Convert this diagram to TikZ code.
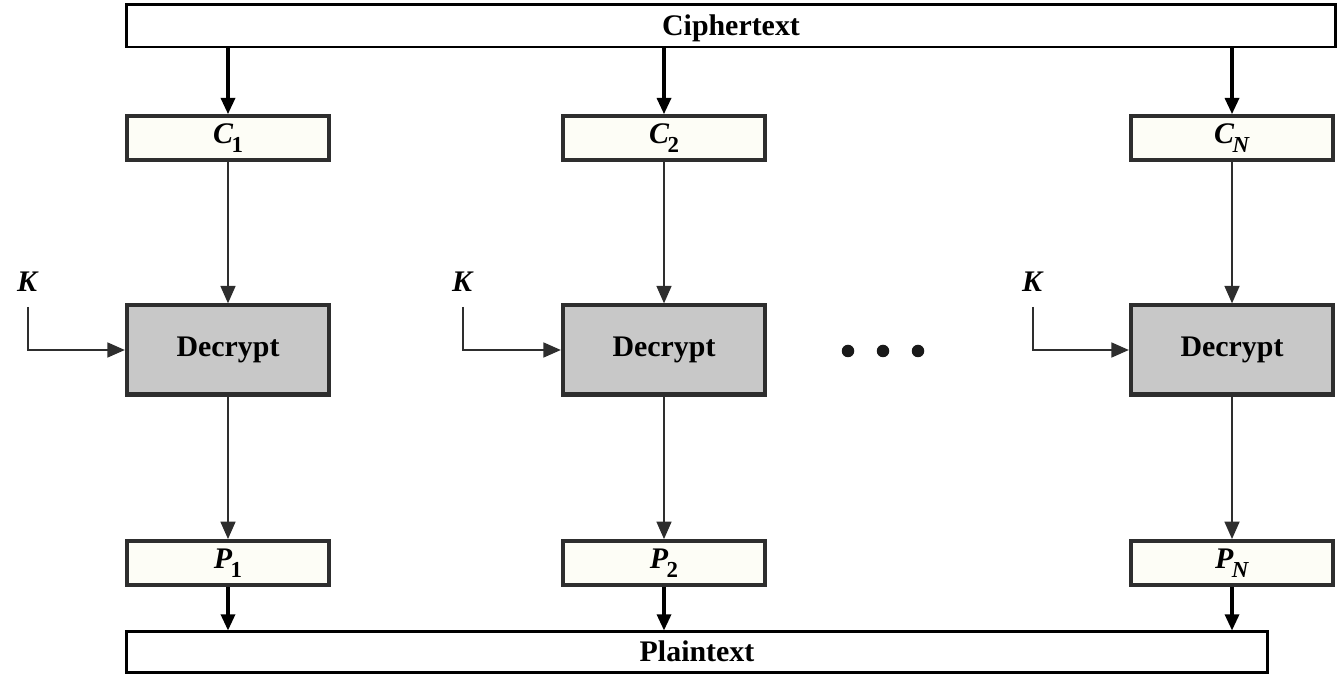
\documentclass[tikz,border=0pt]{standalone}
\usepackage{fontspec}
\setmainfont{Liberation Serif}
\usetikzlibrary{arrows.meta}
\definecolor{boxline}{HTML}{2E2E2E}
\definecolor{blockfill}{HTML}{FDFDF6}
\definecolor{cipherfill}{HTML}{C8C8C8}
\newcommand{\blk}[2]{\textbf{\textit{#1}}\kern-0.5pt\raisebox{-2.4pt}{\fontsize{6.5}{7}\selectfont\textbf{#2}}}
\newcommand{\blkit}[2]{\textbf{\textit{#1}}\kern-0.5pt\raisebox{-2.4pt}{\fontsize{6.5}{7}\selectfont\textbf{\textit{#2}}}}
\begin{document}
\begin{tikzpicture}[x=0.01cm,y=-0.01cm,
  every node/.style={font=\fontsize{8.5}{10}\selectfont\bfseries, inner sep=0pt},
  bar/.style={draw=black, line width=0.85pt, fill=white, minimum height=0.42cm, text depth=0.5pt},
  blockbox/.style={draw=boxline, line width=1.05pt, fill=blockfill, minimum width=2.02cm, minimum height=0.44cm},
  decbox/.style={draw=boxline, line width=1.15pt, fill=cipherfill, minimum width=2.02cm, minimum height=0.89cm},
  thick arrow/.style={line width=0.9pt, draw=black, -{Triangle[length=4.6pt,width=4pt]}},
  thin arrow/.style={line width=0.7pt, draw=boxline, -{Triangle[length=5pt,width=4.2pt]}},
  key/.style={font=\fontsize{8.5}{10}\selectfont\bfseries\itshape},
  dot/.style={fill=black!90, circle, minimum size=0.125cm}]
\useasboundingbox (0,0) rectangle (1340,674);

% top and bottom bars
\node[bar, minimum width=12.08cm] (cipher) at (731,26) {Ciphertext};
\node[bar, minimum width=11.40cm, minimum height=0.40cm] (plain) at (697,652) {Plaintext};

% ciphertext blocks
\node[blockbox] (C1) at (228,138) {\blk{C}{1}};
\node[blockbox] (C2) at (664,138) {\blk{C}{2}};
\node[blockbox] (CN) at (1232,138) {\blkit{C}{N}};

% decryption stages
\node[decbox] (D1) at (228,350) {Decrypt};
\node[decbox] (D2) at (664,350) {Decrypt};
\node[decbox] (DN) at (1232,350) {Decrypt};

% plaintext blocks
\node[blockbox] (P1) at (228,563) {\blk{P}{1}};
\node[blockbox] (P2) at (664,563) {\blk{P}{2}};
\node[blockbox] (PN) at (1232,563) {\blkit{P}{N}};

% keys
\node[key] (K1) at (27,282) {K};
\node[key] (K2) at (462,282) {K};
\node[key] (K3) at (1032,282) {K};
\coordinate (k1) at (28,307);
\coordinate (k2) at (463,307);
\coordinate (k3) at (1033,307);

% ellipsis between stages
\node[dot] (e1) at (848,351) {};
\node[dot] (e2) at (883,351) {};
\node[dot] (e3) at (918,351) {};

% ciphertext split
\foreach \b in {C1,C2,CN}
  \draw[thick arrow] (cipher.south -| \b.north) -- (\b.north);
% block to decryption to plaintext block
\foreach \c/\d/\p in {C1/D1/P1, C2/D2/P2, CN/DN/PN}{
  \draw[thin arrow] (\c.south) -- (\d.north);
  \draw[thin arrow] (\d.south) -- (\p.north);
  \draw[thick arrow] (\p.south) -- (\p.south |- plain.north);
}
% key inputs
\draw[thin arrow] (k1) |- (D1.west);
\draw[thin arrow] (k2) |- (D2.west);
\draw[thin arrow] (k3) |- (DN.west);
\end{tikzpicture}
\end{document}
